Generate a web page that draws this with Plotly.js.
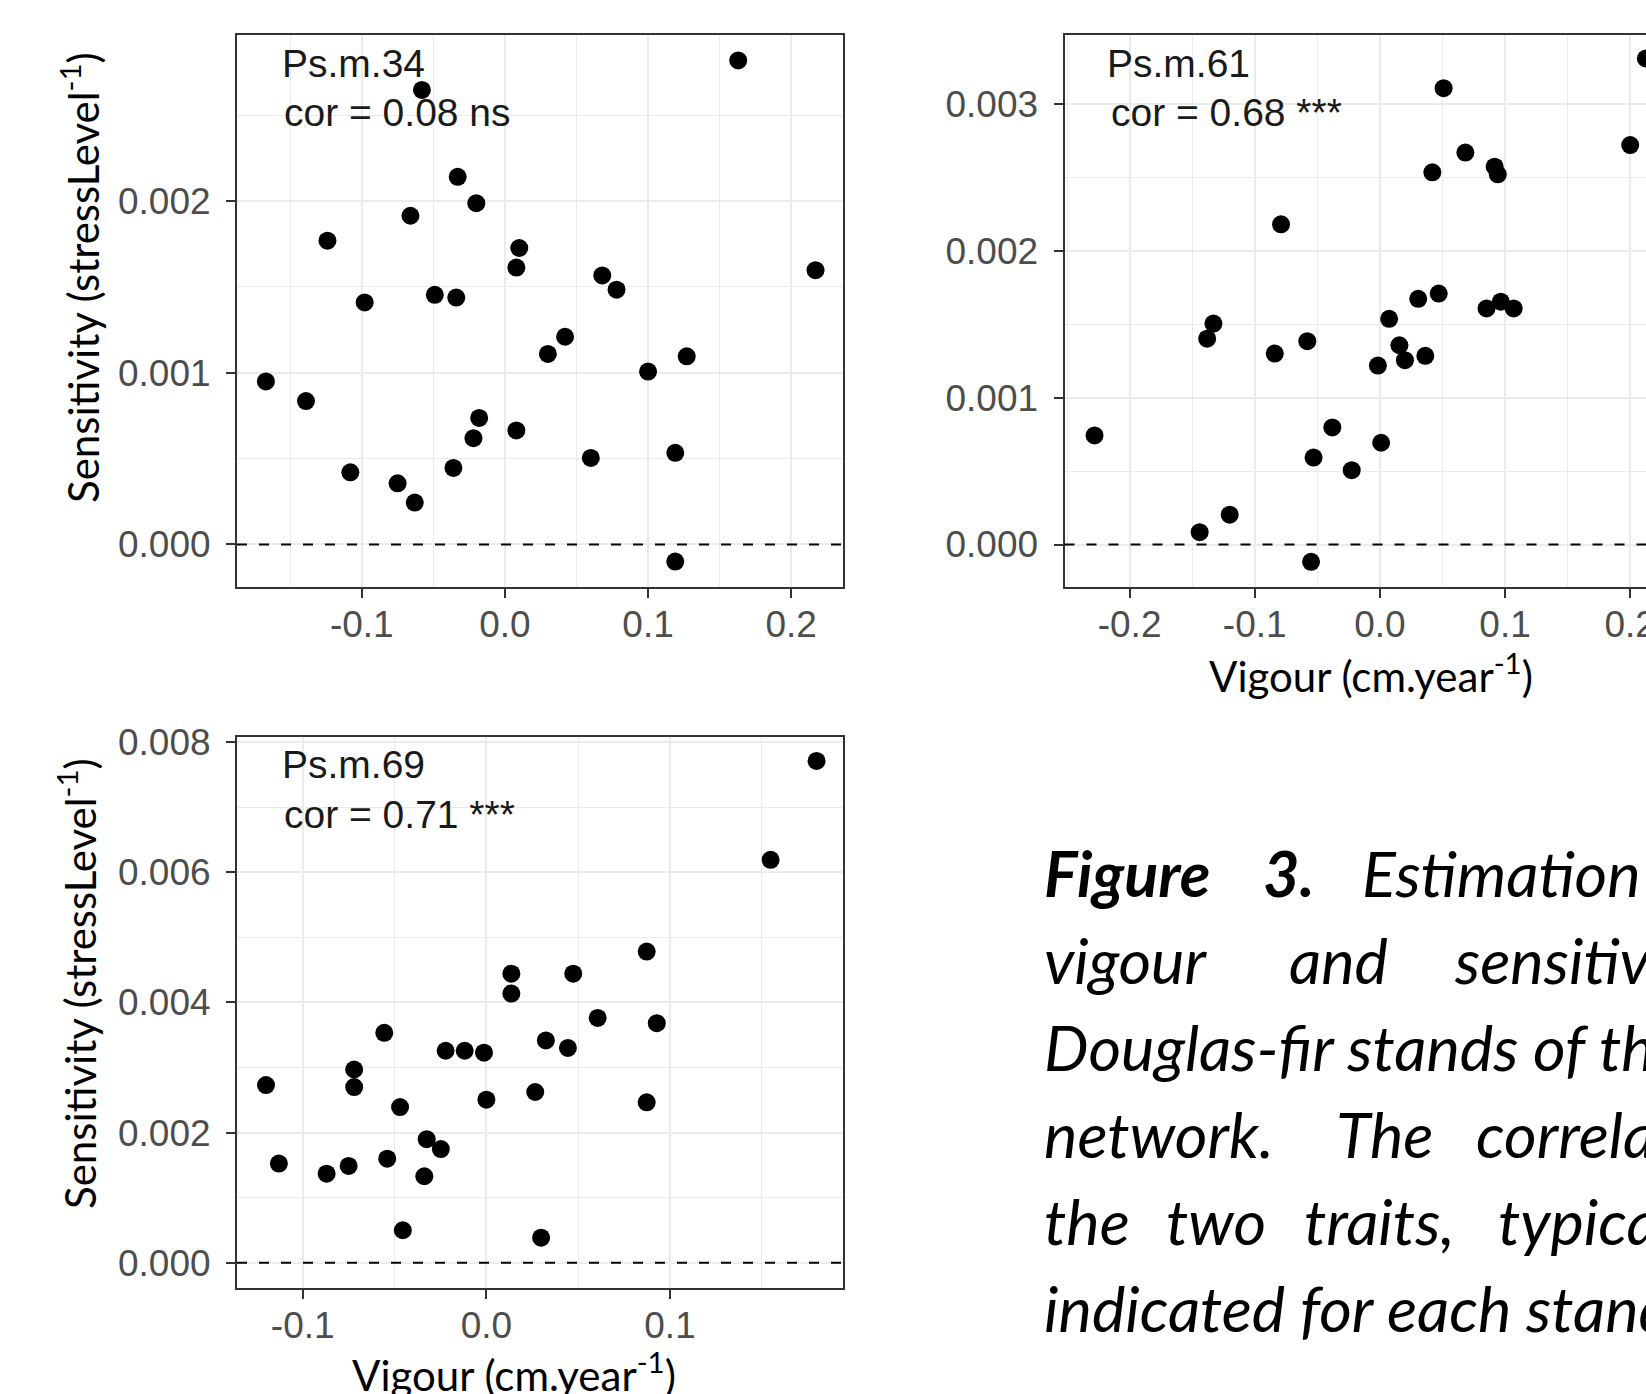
<!DOCTYPE html>
<html>
<head>
<meta charset="utf-8">
<script src="https://cdn.plot.ly/plotly-3.0.1.min.js"></script>
<style>
html, body { margin:0; padding:0; width:1646px; height:1394px; overflow:hidden; background:#ffffff; }
#chart { position:absolute; left:0; top:0; width:1700px; height:1394px; }
#caption { position:absolute; left:0; top:0; width:1646px; height:1394px; overflow:hidden; pointer-events:none; }
.cw { position:absolute; white-space:nowrap; font-family:'Lato', sans-serif; font-style:italic; font-size:63px; line-height:63px; color:#000; }
.cb { font-weight:bold; }
</style>
</head>
<body>
<div id="chart"></div>
<div id="caption"></div>
<script>
// ---------------- DATA ----------------
const stand34 = "Ps.m.34";
const cor34 = "cor = 0.08 ns";
const vigour34 = [-0.167, -0.139, -0.124, -0.108, -0.098, -0.075, -0.066, -0.063, -0.058, -0.049, -0.036, -0.034, -0.033, -0.022, -0.020, -0.018, 0.008, 0.008, 0.010, 0.030, 0.042, 0.060, 0.068, 0.078, 0.100, 0.119, 0.119, 0.127, 0.163, 0.217];
const sens34 = [0.00095, 0.000835, 0.00177, 0.00042, 0.00141, 0.000356, 0.001915, 0.000244, 0.002648, 0.001454, 0.000446, 0.001438, 0.002142, 0.000619, 0.001988, 0.000737, 0.000664, 0.001613, 0.001727, 0.00111, 0.00121, 0.000504, 0.001567, 0.001484, 0.001007, 0.000534, -0.0001, 0.001096, 0.00282, 0.001598];

const stand61 = "Ps.m.61";
const cor61 = "cor = 0.68 ***";
const vigour61 = [-0.228, -0.144, -0.138, -0.133, -0.120, -0.084, -0.079, -0.058, -0.055, -0.053, -0.038, -0.0225, -0.0016, 0.001, 0.0074, 0.0156, 0.020, 0.0306, 0.0363, 0.0419, 0.047, 0.0509, 0.0683, 0.0852, 0.0917, 0.0942, 0.0966, 0.1069, 0.200, 0.2125];
const sens61 = [0.000743, 0.000084, 0.001402, 0.001505, 0.000203, 0.0013, 0.002181, 0.001385, -0.000118, 0.000592, 0.000797, 0.000506, 0.001219, 0.000693, 0.001537, 0.001357, 0.001255, 0.001673, 0.001285, 0.002535, 0.001709, 0.003108, 0.002669, 0.001608, 0.002573, 0.002521, 0.001654, 0.001608, 0.00272, 0.00331];

const stand69 = "Ps.m.69";
const cor69 = "cor = 0.71 ***";
const vigour69 = [-0.120, -0.113, -0.087, -0.075, -0.072, -0.072, -0.0556, -0.054, -0.047, -0.0455, -0.0338, -0.0325, -0.0248, -0.0222, -0.0118, -0.0013, 0.0, 0.0136, 0.0136, 0.0266, 0.0298, 0.0324, 0.0444, 0.0473, 0.0606, 0.0873, 0.0873, 0.0928, 0.1548, 0.1798];
const sens69 = [0.00273, 0.001524, 0.00137, 0.001488, 0.00297, 0.0027, 0.003534, 0.0016, 0.002392, 0.0005, 0.00133, 0.0019, 0.001748, 0.003258, 0.003258, 0.003228, 0.002506, 0.004442, 0.004137, 0.002624, 0.000386, 0.003416, 0.003301, 0.004442, 0.003762, 0.004781, 0.002466, 0.003681, 0.006191, 0.00771];

const xTickVals34 = [-0.1, 0.0, 0.1, 0.2];
const xTickText34 = ["-0.1", "0.0", "0.1", "0.2"];
const yTickVals34 = [0.000, 0.001, 0.002];
const yTickText34 = ["0.000", "0.001", "0.002"];
const xTickVals61 = [-0.2, -0.1, 0.0, 0.1, 0.2];
const xTickText61 = ["-0.2", "-0.1", "0.0", "0.1", "0.2"];
const yTickVals61 = [0.000, 0.001, 0.002, 0.003];
const yTickText61 = ["0.000", "0.001", "0.002", "0.003"];
const xTickVals69 = [-0.1, 0.0, 0.1];
const xTickText69 = ["-0.1", "0.0", "0.1"];
const yTickVals69 = [0.000, 0.002, 0.004, 0.006, 0.008];
const yTickText69 = ["0.000", "0.002", "0.004", "0.006", "0.008"];

const xTitle = "Vigour (cm.year<sup>-1</sup>)";
const yTitle = "Sensitivity (stressLevel<sup>-1</sup>)";

const captionLines = [
  [["Figure", true], ["3.", true], ["Estimation of the", false]],
  [["vigour", false], ["and", false], ["sensitivity", false]],
  [["Douglas-fir stands of the", false]],
  [["network.", false], ["The", false], ["correlation", false]],
  [["the", false], ["two", false], ["traits,", false], ["typically", false]],
  [["indicated for each stand", false]]
];

// ---------------- LAYOUT ----------------
const W = 1700, H = 1394;
const fx = p => p / W;
const fy = p => 1 - p / H;

const tickFont = {family: "'Liberation Sans', Arial, sans-serif", size: 37, color: '#4d4d4d'};
function axis(domain, range, tv, tt, minorDt, extra) {
  return Object.assign({
    domain: domain, range: range, autorange: false,
    tickmode: 'array', tickvals: tv, ticktext: tt,
    showline: true, mirror: true, linecolor: '#333333', linewidth: 2,
    ticks: 'outside', ticklen: 9, tickwidth: 2, tickcolor: '#333333',
    showgrid: true, gridcolor: '#ebebeb', gridwidth: 2, zeroline: false,
    tickfont: tickFont, fixedrange: true,
    minor: {tickmode: 'linear', tick0: 0, dtick: minorDt, showgrid: true, gridcolor: '#ebebeb', gridwidth: 1, ticks: ''}
  }, extra || {});
}

const pTop1 = 35, pBot1 = 586.5, pTop3 = 737, pBot3 = 1288;
const pL1 = 237, pR1 = 843, pL2 = 1064.5, pR2 = 1670;
const xStand = -5, yStand = 8;

const layout = {
  width: W, height: H,
  margin: {l: 0, r: 0, t: 0, b: 0},
  paper_bgcolor: '#ffffff', plot_bgcolor: '#ffffff',
  showlegend: false,
  xaxis: axis([fx(pL1), fx(pR1)], [-0.1872, 0.2362], xTickVals34, xTickText34, 0.05, {anchor: 'y', ticklabelstandoff: xStand}),
  yaxis: axis([fy(pBot1), fy(pTop1)], [-0.000245, 0.002968], yTickVals34, yTickText34, 0.0005, {anchor: 'x', ticklabelstandoff: yStand}),
  xaxis2: axis([fx(pL2), fx(pR2)], [-0.252, 0.2318], xTickVals61, xTickText61, 0.05, {anchor: 'y2', ticklabelstandoff: xStand}),
  yaxis2: axis([fy(pBot1), fy(pTop1)], [-0.000286, 0.00347], yTickVals61, yTickText61, 0.0005, {anchor: 'x2', ticklabelstandoff: yStand}),
  xaxis3: axis([fx(pL1), fx(pR1)], [-0.1358, 0.1942], xTickVals69, xTickText69, 0.05, {anchor: 'y3', ticklabelstandoff: xStand}),
  yaxis3: axis([fy(pBot3), fy(pTop3)], [-0.000387, 0.008078], yTickVals69, yTickText69, 0.001, {anchor: 'x3', ticklabelstandoff: yStand}),
  shapes: [
    {type: 'line', xref: 'x domain', yref: 'y', x0: 0, x1: 1, y0: 0, y1: 0, line: {color: '#000', width: 2, dash: '10px,12px'}, layer: 'above'},
    {type: 'line', xref: 'x2 domain', yref: 'y2', x0: 0, x1: 1, y0: 0, y1: 0, line: {color: '#000', width: 2, dash: '10px,12px'}, layer: 'above'},
    {type: 'line', xref: 'x3 domain', yref: 'y3', x0: 0, x1: 1, y0: 0, y1: 0, line: {color: '#000', width: 2, dash: '10px,12px'}, layer: 'above'}
  ],
  annotations: []
};

const annFont = {family: "'Liberation Sans', Arial, sans-serif", size: 39, color: '#1a1a1a'};
function ann(text, px, py, font, extra) {
  return Object.assign({text: text, xref: 'paper', yref: 'paper', x: fx(px), y: fy(py),
    xanchor: 'left', yanchor: 'middle', showarrow: false, font: font}, extra || {});
}
layout.annotations.push(ann(stand34, 280, 64, annFont));
layout.annotations.push(ann(cor34, 282, 113, annFont));
layout.annotations.push(ann(stand61, 1105, 64, annFont));
layout.annotations.push(ann(cor61, 1109, 113, annFont));
layout.annotations.push(ann(stand69, 280, 764, annFont));
layout.annotations.push(ann(cor69, 282, 814, annFont));

const titleFont = {family: "Lato, 'Noto Sans', sans-serif", size: 42, color: '#000'};
layout.annotations.push(ann(xTitle, 1371, 673, titleFont, {xanchor: 'center'}));
layout.annotations.push(ann(xTitle, 514, 1372, titleFont, {xanchor: 'center'}));
layout.annotations.push(ann(yTitle, 80, 278, titleFont, {xanchor: 'center', textangle: -90}));
layout.annotations.push(ann(yTitle, 77, 984, titleFont, {xanchor: 'center', textangle: -90}));

const marker = {color: '#000000', size: 18, line: {width: 0}};
const data = [
  {type: 'scatter', mode: 'markers', x: vigour34, y: sens34, xaxis: 'x', yaxis: 'y', marker: marker, cliponaxis: true},
  {type: 'scatter', mode: 'markers', x: vigour61, y: sens61, xaxis: 'x2', yaxis: 'y2', marker: marker, cliponaxis: true},
  {type: 'scatter', mode: 'markers', x: vigour69, y: sens69, xaxis: 'x3', yaxis: 'y3', marker: marker, cliponaxis: true}
];

Plotly.newPlot('chart', data, layout, {displayModeBar: false, staticPlot: true});

// ---------------- CAPTION ----------------
const wordLeft = [
  [1044, 1263, 1362],
  [1044, 1289, 1455],
  [1044],
  [1044, 1336, 1476],
  [1044, 1166, 1304, 1498],
  [1044]
];
const baseline0 = 897, lineStep = 87, capFs = 63;
const cap = document.getElementById('caption');
captionLines.forEach((line, i) => {
  line.forEach((w, j) => {
    const s = document.createElement('span');
    s.className = 'cw' + (w[1] ? ' cb' : '');
    s.textContent = w[0];
    s.style.left = wordLeft[i][j] + 'px';
    s.style.top = (baseline0 + i * lineStep - 0.887 * capFs) + 'px';
    cap.appendChild(s);
  });
});
</script>
</body>
</html>
